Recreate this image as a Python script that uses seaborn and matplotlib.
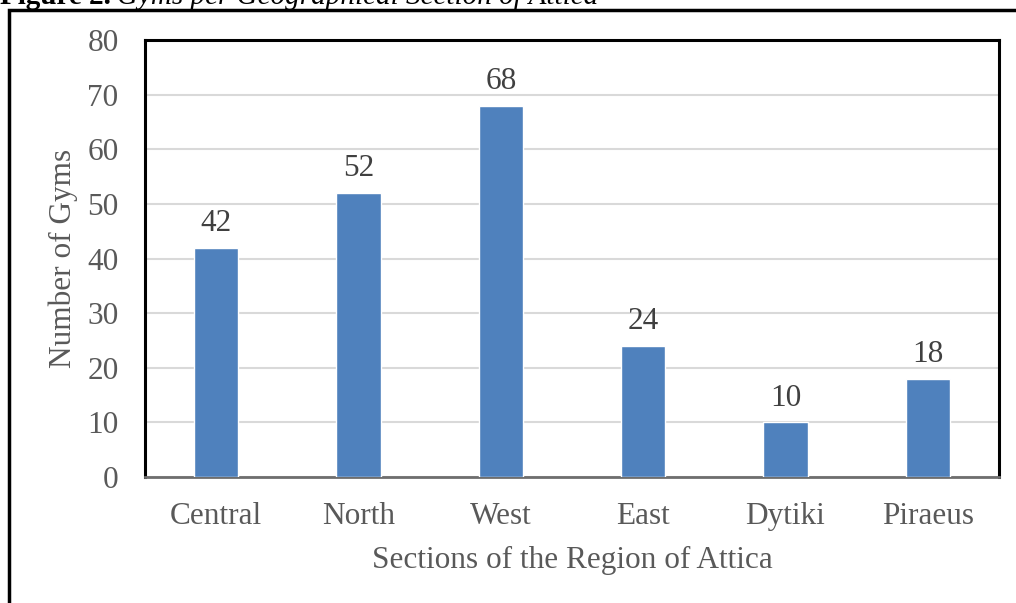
import matplotlib
matplotlib.use("Agg")
import matplotlib.pyplot as plt
import matplotlib.patches as mpatches
import seaborn as sns
import pandas as pd

categories = ["Central", "North", "West", "East", "Dytiki", "Piraeus"]
gyms = [42, 52, 68, 24, 10, 18]
y_ticks = [0, 10, 20, 30, 40, 50, 60, 70, 80]

sns.set_theme(style="white")
plt.rcParams["font.family"] = ["Liberation Serif", "DejaVu Serif"]

W, H = 1016, 603
fig = plt.figure(figsize=(W / 100, H / 100), dpi=100)
ax = fig.add_axes([145 / W, 1 - 477 / H, (999 - 145) / W, (477 - 40) / H])

df = pd.DataFrame({"Section": categories, "Gyms": gyms})
sns.barplot(data=df, x="Section", y="Gyms", color="#4F81BD", saturation=1,
            width=0.31, ax=ax, zorder=3)

ax.set_ylim(0, 80)
ax.set_xlim(-0.5, len(categories) - 0.5)
ax.set_yticks(y_ticks)
ax.yaxis.grid(True, color="#D9D9D9", linewidth=1.5, zorder=0)
ax.xaxis.grid(False)
ax.set_axisbelow(True)

tick_color = "#595959"
ax.tick_params(axis="both", length=0, labelsize=22.5, labelcolor=tick_color)
ax.tick_params(axis="y", pad=19)
ax.tick_params(axis="x", pad=18)

ax.set_xlabel("Sections of the Region of Attica", fontsize=22.5, color=tick_color, labelpad=11)
ax.set_ylabel("Number of Gyms", fontsize=22.5, color=tick_color, labelpad=7)

for side in ["left", "top", "right"]:
    ax.spines[side].set_visible(True)
    ax.spines[side].set_color("black")
    ax.spines[side].set_linewidth(2.2)
ax.spines["bottom"].set_color("#6E6E6E")
ax.spines["bottom"].set_linewidth(2)

for c in ax.containers:
    ax.bar_label(c, labels=[str(v) for v in gyms], padding=7, fontsize=22.5, color="#404040")

# outer frame of the figure box
frame = mpatches.Rectangle((9 / W, -0.5), 2.0, (1 - 10 / H) + 0.5, transform=fig.transFigure,
                           fill=False, edgecolor="black", linewidth=2.5, clip_on=False)
fig.add_artist(frame)

# caption (partly cut off at the top, as in the source)
t1 = fig.text(0.0, 1 - 4 / H, "Figure 2.", fontsize=21, fontweight="bold", color="black",
              va="baseline", ha="left")
fig.canvas.draw()
bb = t1.get_window_extent(renderer=fig.canvas.get_renderer())
fig.text(bb.x1 / W + 6 / W, 1 - 4 / H, "Gyms per Geographical Section of Attica", fontsize=21,
         fontstyle="italic", color="black", va="baseline", ha="left")

fig.savefig("out.png", dpi=100, facecolor="white")
